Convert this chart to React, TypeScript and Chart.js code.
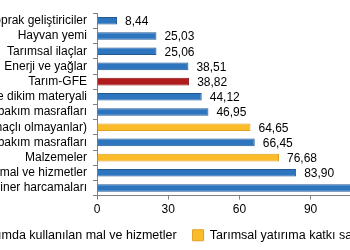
import React, { useEffect, useRef } from "react";
import { Chart, registerables } from "chart.js";

Chart.register(...registerables);

const categories = [
  "Gübre ve toprak geliştiriciler",
  "Hayvan yemi",
  "Tarımsal ilaçlar",
  "Enerji ve yağlar",
  "Tarım-GFE",
  "Tohum ve dikim materyali",
  "Bina bakım masrafları",
  "Binalar (tarımsal amaçlı olmayanlar)",
  "Makine bakım masrafları",
  "Malzemeler",
  "Diğer mal ve hizmetler",
  "Veteriner harcamaları",
];
const values = [8.44, 25.03, 25.06, 38.51, 38.82, 44.12, 46.95, 64.65, 66.45, 76.68, 83.9, 113.2];
const groups = ["g", "g", "g", "g", "t", "g", "g", "y", "g", "y", "g", "g"];
const legendLabels = [
  "Tarımda kullanılan mal ve hizmetler",
  "Tarımsal yatırıma katkı sağlayan mal ve hizmetler",
];
const xTickStep = 30;

const FILL: Record<string, string> = { g: "#2e75c0", t: "#b01c1c", y: "#fbbc2a" };
const EDGE: Record<string, string> = { g: "#1f5a96", t: "#8a1212", y: "#e0a020" };
const FONT = "'Liberation Sans', Arial, sans-serif";

const OFFSET_L = 110;
const W = 707;
const PAD_R = 40;

const valueLabels = {
  id: "valueLabels",
  afterDatasetsDraw(chart: any) {
    const ctx = chart.ctx;
    const meta = chart.getDatasetMeta(0);
    ctx.save();
    ctx.font = `12px ${FONT}`;
    ctx.fillStyle = "#000";
    ctx.textAlign = "left";
    ctx.textBaseline = "middle";
    meta.data.forEach((bar: any, i: number) => {
      const v = values[i].toFixed(2).replace(".", ",");
      ctx.fillText(v, bar.x + 8, bar.y + 1);
    });
    ctx.restore();
  },
};

export default function App() {
  const ref = useRef<HTMLCanvasElement>(null);
  useEffect(() => {
    if (!ref.current) return;
    const chart = new Chart(ref.current, {
      type: "bar",
      data: {
        labels: categories,
        datasets: [
          {
            data: values,
            backgroundColor: groups.map((g) => FILL[g]),
            borderColor: groups.map((g) => EDGE[g]),
            borderWidth: 1,
            barPercentage: 0.5,
            categoryPercentage: 1,
          },
        ],
      },
      options: {
        indexAxis: "y",
        animation: false,
        responsive: false,
        devicePixelRatio: 1,
        layout: { padding: { top: 2, right: PAD_R, left: 0, bottom: -1.5 } },
        scales: {
          y: {
            afterFit(scale: any) {
              scale.width = OFFSET_L + 97;
            },
            grid: {
              drawOnChartArea: false,
              drawTicks: true,
              tickLength: 4,
              color: "#808080",
            },
            border: { color: "#808080" },
            ticks: { color: "#000", font: { family: FONT, size: 12 }, padding: 6, autoSkip: false },
          },
          x: {
            min: 0,
            max: 193.8,
            afterBuildTicks(scale: any) {
              scale.ticks = scale.ticks.filter((t: any) => t.value % xTickStep === 0);
            },
            ticks: { stepSize: xTickStep, color: "#000", font: { family: FONT, size: 12 }, padding: 3 },
            grid: { drawOnChartArea: false, drawTicks: true, tickLength: 4, color: "#808080" },
            border: { color: "#808080" },
          },
        },
        plugins: {
          legend: {
            display: true,
            position: "bottom",
            labels: {
              boxWidth: 11,
              boxHeight: 11,
              padding: 9,
              color: "#000",
              font: { family: FONT, size: 12.5 },
              generateLabels: () => [
                { text: legendLabels[0] + "  ", fillStyle: FILL.g, strokeStyle: EDGE.g, lineWidth: 1, hidden: false, datasetIndex: 0 },
                { text: legendLabels[1], fillStyle: FILL.y, strokeStyle: EDGE.y, lineWidth: 1, hidden: false, datasetIndex: 0 },
              ],
            },
            onClick: () => {},
          },
          tooltip: { enabled: false },
        },
      } as any,
      plugins: [valueLabels],
    });
    return () => chart.destroy();
  }, []);
  return (
    <div style={{ position: "fixed", left: 0, top: 0, width: 350, height: 250, overflow: "hidden", background: "#fff" }}>
      <div style={{ position: "absolute", left: -OFFSET_L, top: 0, width: W, height: 250 }}>
        <canvas ref={ref} width={W} height={250} style={{ width: W, height: 250 }} />
      </div>
    </div>
  );
}
